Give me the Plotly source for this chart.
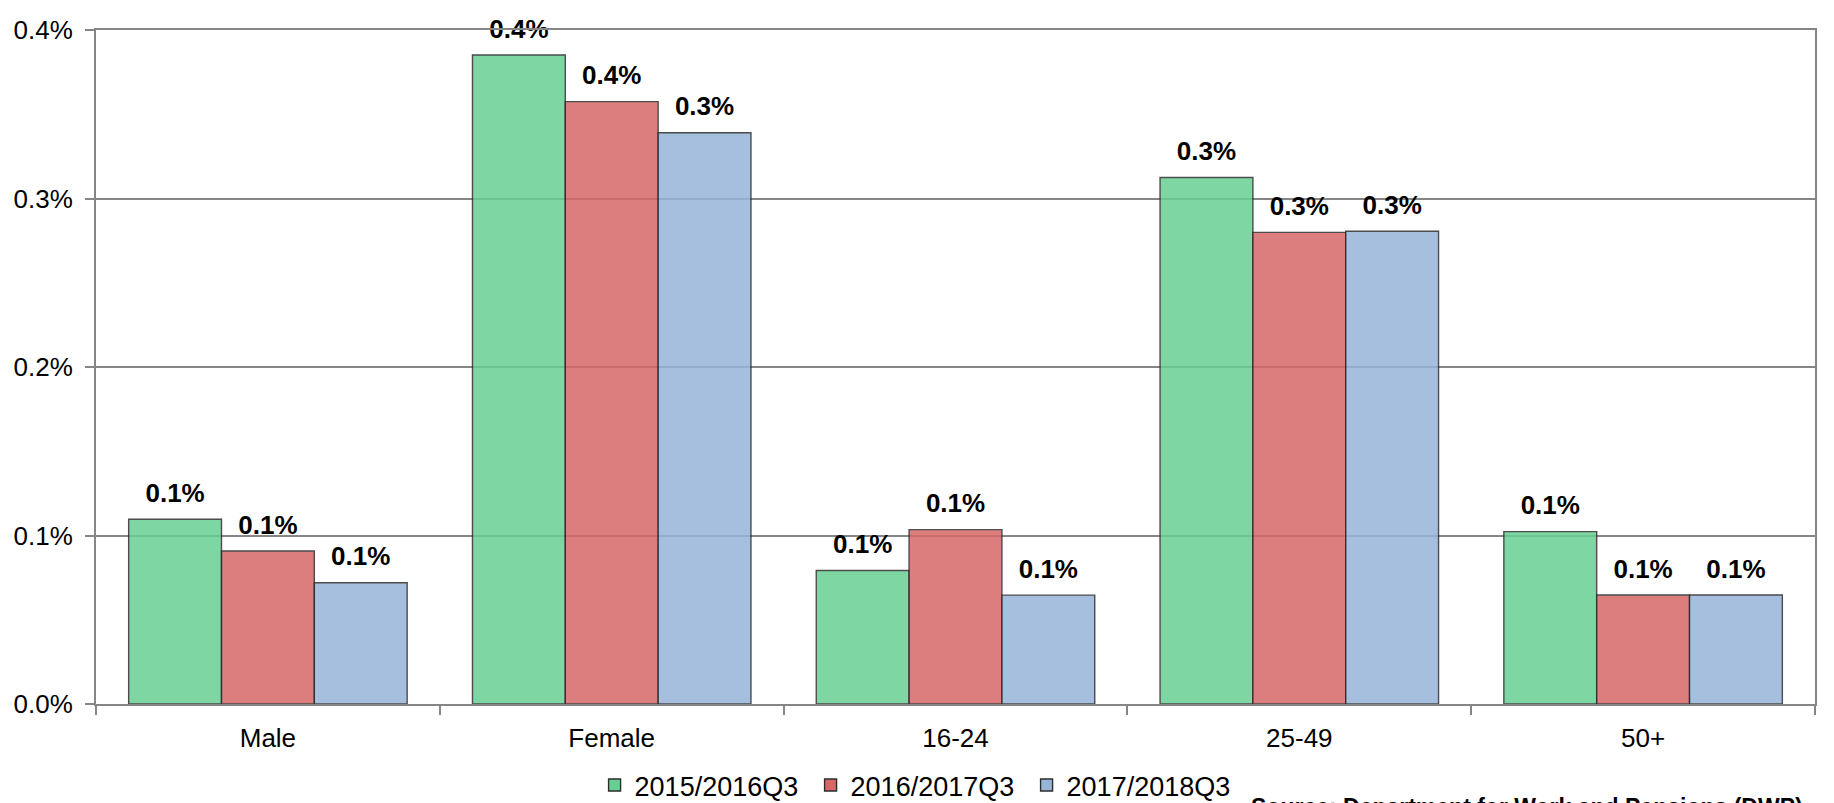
import plotly.graph_objects as go

categories = ["Male", "Female", "16-24", "25-49", "50+"]
series_names = ["2015/2016Q3", "2016/2017Q3", "2017/2018Q3"]
v_2015_2016 = [0.001096, 0.003852, 0.000792, 0.003125, 0.001023]
v_2016_2017 = [0.000908, 0.003575, 0.001035, 0.002799, 0.000647]
v_2017_2018 = [0.000720, 0.003390, 0.000646, 0.002806, 0.000647]
series_values = [v_2015_2016, v_2016_2017, v_2017_2018]
y_ticks = [0.0, 0.001, 0.002, 0.003, 0.004]
source_text = "Source: Department for Work and Pensions (DWP)"

colors = ["rgb(104,207,148)", "rgb(216,104,104)", "rgb(151,180,217)"]
FONT = "Arial, Liberation Sans, sans-serif"
LABEL_GAP = 0.000050  # label lift above bar top, in axis units (style only)

fig = go.Figure()
for i, (name, vals) in enumerate(zip(series_names, series_values)):
    fig.add_trace(go.Bar(
        x=categories, y=vals, name=name, offsetgroup=str(i),
        marker=dict(color=colors[i], opacity=0.85,
                    line=dict(color="rgb(45,45,45)", width=1.4)),
        hoverinfo="skip",
    ))
for i, vals in enumerate(series_values):
    fig.add_trace(go.Bar(
        x=categories, y=[LABEL_GAP] * len(vals), base=vals, offsetgroup=str(i),
        marker=dict(color="rgba(0,0,0,0)", line=dict(width=0)),
        text=[f"{v * 100:.1f}%" for v in vals], textposition="outside",
        textfont=dict(family=FONT, size=26, color="black", weight="bold"),
        texttemplate="<b>%{text}</b>", constraintext="none", cliponaxis=False,
        showlegend=False, hoverinfo="skip",
    ))

fig.update_layout(
    width=1834, height=803,
    margin=dict(l=88, r=27, t=22, b=107, autoexpand=False),
    paper_bgcolor="white", plot_bgcolor="white",
    barmode="group", bargap=0.19, bargroupgap=0,
    font=dict(family=FONT, size=26, color="black"),
    showlegend=True,
    legend=dict(orientation="h", xref="container", yref="container",
                x=0.4965, xanchor="center", y=0.0318, yanchor="middle",
                font=dict(family=FONT, size=27, color="black"),
                itemwidth=30, entrywidth=171, entrywidthmode="pixels",
                traceorder="normal", bgcolor="rgba(0,0,0,0)"),
    xaxis=dict(showline=True, linecolor="rgb(134,134,134)", linewidth=2, mirror=True,
               ticks="outside", tickson="boundaries", ticklen=9, tickcolor="rgb(134,134,134)",
               tickwidth=2, showgrid=False, automargin=False, ticklabelstandoff=10,
               tickfont=dict(family=FONT, size=26)),
    yaxis=dict(range=[0, 0.004], tickvals=y_ticks, tickformat=".1%",
               showline=True, linecolor="rgb(134,134,134)", linewidth=2, mirror=True,
               ticks="outside", ticklen=9, tickcolor="rgb(134,134,134)", tickwidth=2,
               showgrid=True, gridcolor="rgb(134,134,134)", gridwidth=1.5,
               zeroline=False, ticklabelstandoff=7, automargin=False,
               tickfont=dict(family=FONT, size=26)),
    annotations=[dict(text="<b>" + source_text + "</b>", xref="paper", yref="paper",
                      x=0.6705, y=-0.1306, xanchor="left", yanchor="top", showarrow=False,
                      font=dict(family=FONT, size=23, color="black"))],
)

fig.write_html("out.html")
